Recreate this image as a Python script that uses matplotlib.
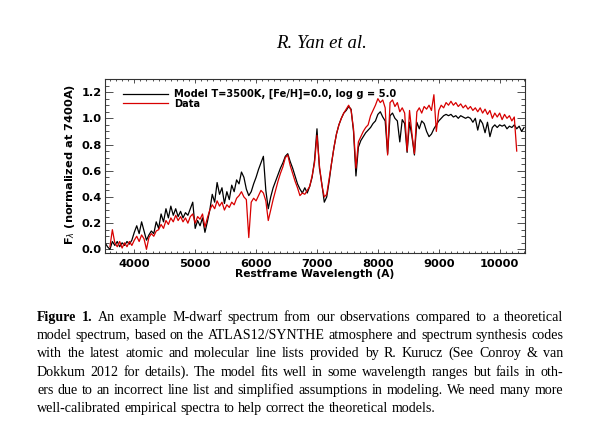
import numpy as np
import matplotlib
matplotlib.use("Agg")
import matplotlib.pyplot as plt
from matplotlib.ticker import MultipleLocator

# ---------------- data ----------------
model_wave = np.arange(3520, 10401, 40)
model_flux = [
    0.05, 0.02, 0.00, 0.06, 0.03, 0.06, 0.02, 0.05, 0.03, 0.06,   # 3520-3880
    0.04, 0.07, 0.13, 0.18, 0.12, 0.21, 0.14, 0.07, 0.11, 0.14,   # 3920-4280
    0.12, 0.21, 0.16, 0.27, 0.21, 0.31, 0.24, 0.33, 0.26, 0.31,   # 4320-4680
    0.25, 0.29, 0.24, 0.28, 0.26, 0.31, 0.36, 0.16, 0.22, 0.18,   # 4720-5080
    0.24, 0.13, 0.21, 0.30, 0.42, 0.36, 0.51, 0.42, 0.47, 0.35,   # 5120-5480
    0.44, 0.38, 0.49, 0.44, 0.53, 0.50, 0.59, 0.55, 0.46, 0.41,   # 5520-5880
    0.44, 0.50, 0.55, 0.61, 0.66, 0.71, 0.45, 0.31, 0.40, 0.47,   # 5920-6280
    0.52, 0.57, 0.62, 0.66, 0.71, 0.73, 0.67, 0.62, 0.56, 0.50,   # 6320-6680
    0.46, 0.43, 0.47, 0.43, 0.48, 0.55, 0.68, 0.92, 0.62, 0.50,   # 6720-7080
    0.36, 0.40, 0.52, 0.66, 0.78, 0.88, 0.95, 1.00, 1.04, 1.06,   # 7120-7480
    1.09, 1.07, 0.90, 0.56, 0.78, 0.83, 0.86, 0.89, 0.91, 0.93,   # 7520-7880
    0.96, 0.98, 1.03, 1.05, 1.01, 0.98, 0.73, 1.02, 1.04, 1.00,   # 7920-8280
    0.98, 0.82, 0.99, 0.96, 0.74, 0.97, 0.86, 0.72, 0.97, 0.92,   # 8320-8680
    0.98, 0.96, 0.90, 0.86, 0.88, 0.92, 0.95, 0.98, 1.00, 1.02,   # 8720-9080
    1.03, 1.02, 1.03, 1.01, 1.02, 1.00, 1.02, 1.01, 1.00, 1.01,   # 9120-9480
    1.00, 0.97, 1.00, 0.91, 0.99, 0.96, 0.89, 0.97, 0.86, 0.93,   # 9520-9880
    0.95, 0.93, 0.95, 0.94, 0.95, 0.92, 0.94, 0.93, 0.95, 0.92,   # 9920-10280
    0.94, 0.90, 0.93,                                             # 10320-10400
]

data_wave = np.arange(3600, 10281, 40)
data_flux = [
    0.02, 0.15, 0.05, 0.02, 0.06, 0.01, 0.05, 0.02, 0.06, 0.03,   # 3600-3960
    0.07, 0.10, 0.06, 0.11, 0.08, 0.00, 0.09, 0.12, 0.10, 0.14,   # 4000-4360
    0.15, 0.19, 0.16, 0.22, 0.19, 0.24, 0.21, 0.26, 0.22, 0.25,   # 4400-4760
    0.21, 0.24, 0.20, 0.25, 0.27, 0.20, 0.25, 0.23, 0.27, 0.17,   # 4800-5160
    0.24, 0.30, 0.34, 0.31, 0.37, 0.33, 0.36, 0.30, 0.34, 0.32,   # 5200-5560
    0.36, 0.34, 0.39, 0.41, 0.44, 0.40, 0.38, 0.09, 0.36, 0.39,   # 5600-5960
    0.37, 0.41, 0.45, 0.43, 0.37, 0.22, 0.30, 0.38, 0.45, 0.52,   # 6000-6360
    0.58, 0.63, 0.70, 0.72, 0.64, 0.58, 0.52, 0.47, 0.41, 0.43,   # 6400-6760
    0.42, 0.45, 0.48, 0.56, 0.66, 0.87, 0.64, 0.49, 0.40, 0.42,   # 6800-7160
    0.54, 0.66, 0.78, 0.88, 0.95, 1.00, 1.04, 1.07, 1.10, 1.06,   # 7200-7560
    0.92, 0.62, 0.82, 0.86, 0.90, 0.93, 0.95, 1.02, 1.06, 1.10,   # 7600-7960
    1.15, 1.12, 1.14, 1.08, 0.72, 1.12, 1.14, 1.09, 1.12, 1.05,   # 8000-8360
    1.08, 1.04, 0.75, 1.06, 0.88, 0.73, 1.05, 1.08, 1.04, 1.09,   # 8400-8760
    1.07, 1.10, 1.06, 1.18, 0.90, 1.06, 1.10, 1.08, 1.12, 1.10,   # 8800-9160
    1.13, 1.10, 1.12, 1.09, 1.11, 1.08, 1.10, 1.07, 1.09, 1.06,   # 9200-9560
    1.08, 1.05, 1.08, 1.04, 1.07, 1.03, 1.06, 1.00, 1.04, 1.01,   # 9600-9960
    1.04, 0.99, 1.03, 1.00, 1.02, 0.98, 1.01, 0.75,               # 10000-10280
]

x_ticks = [4000, 5000, 6000, 7000, 8000, 9000, 10000]
y_ticks = [0.0, 0.2, 0.4, 0.6, 0.8, 1.0, 1.2]
legend_labels = ["Model T=3500K, [Fe/H]=0.0, log g = 5.0", "Data"]
x_label = "Restframe Wavelength (A)"
y_label = r"F$_\lambda$ (normalized at 7400A)"
header = "R. Yan et al."
caption_lines = [
    "An example M-dwarf spectrum from our observations compared to a theoretical",
    "model spectrum, based on the ATLAS12/SYNTHE atmosphere and spectrum synthesis codes",
    "with the latest atomic and molecular line lists provided by R. Kurucz (See Conroy & van",
    "Dokkum 2012 for details).  The model fits well in some wavelength ranges but fails in oth-",
    "ers due to an incorrect line list and simplified assumptions in modeling.  We need many more",
    "well-calibrated empirical spectra to help correct the theoretical models.",
]

# ---------------- figure ----------------
W, H = 603, 446
fig = plt.figure(figsize=(W / 100, H / 100), dpi=100)
fig.patch.set_facecolor("white")
renderer = fig.canvas.get_renderer()


def fx(px):
    return px / W


def fy(py):
    return 1 - py / H


def fit_size(t, target, use_height=False):
    bb = t.get_window_extent(renderer)
    cur = bb.height if use_height else bb.width
    t.set_fontsize(t.get_fontsize() * target / cur)
    return t.get_fontsize()


L, R, T, B = 105, 525, 79, 252.5
ax = fig.add_axes([fx(L), fy(B), (R - L) / W, (B - T) / H])
l_model, = ax.plot(model_wave, model_flux, color="black", lw=0.9)
l_data, = ax.plot(data_wave, data_flux, color="#d80000", lw=0.9)
ax.set_xlim(3519, 10416)
ax.set_ylim(-0.024, 1.30)

axis_col = "#333333"
for s in ax.spines.values():
    s.set_color(axis_col)
    s.set_linewidth(0.8)

tick_fs = 8.2
ax.set_xticks(x_ticks)
ax.set_xticklabels([str(v) for v in x_ticks], fontsize=tick_fs, fontweight="bold")
ax.set_yticks(y_ticks)
ax.set_yticklabels(["%.1f" % v for v in y_ticks], fontsize=tick_fs, fontweight="bold")
ax.xaxis.set_minor_locator(MultipleLocator(100))
ax.yaxis.set_minor_locator(MultipleLocator(0.05))
ax.tick_params(which="both", direction="in", top=True, right=True, color=axis_col, width=0.6)
ax.tick_params(axis="x", which="major", length=3.0, pad=5)
ax.tick_params(axis="x", which="minor", length=1.5)
ax.tick_params(axis="y", which="major", length=6.0, pad=2.6)
ax.tick_params(axis="y", which="minor", length=3.0)

# axis labels
xl = fig.text(fx(315), fy(274), x_label, ha="center", va="center",
              fontweight="bold", fontsize=8)
fit_size(xl, 158)
yl = fig.text(fx(70), fy(164), y_label, ha="center", va="center", rotation=90,
              fontweight="bold", fontsize=8)
fit_size(yl, 162, use_height=True)

# legend (font size fitted to the reference text width)
tmp = fig.text(0, 0, legend_labels[0], fontweight="bold", fontsize=8)
leg_fs = fit_size(tmp, 221)
tmp.remove()
em = leg_fs * 100 / 72
spacing = 0.0
anchor = [fx(123), fy(88)]
leg = None
for _ in range(3):
    if leg is not None:
        leg.remove()
    leg = ax.legend([l_model, l_data], legend_labels, loc="upper left",
                    bbox_to_anchor=tuple(anchor), bbox_transform=fig.transFigure,
                    frameon=False, prop={"weight": "bold", "size": leg_fs},
                    handlelength=45 / em, handletextpad=6 / em,
                    labelspacing=spacing, borderpad=0, borderaxespad=0)
    fig.canvas.draw()
    t0 = leg.get_texts()[0].get_window_extent(renderer)
    t1 = leg.get_texts()[1].get_window_extent(renderer)
    c0 = (t0.y0 + t0.y1) / 2
    c1 = (t1.y0 + t1.y1) / 2
    dx = 174 - t0.x0
    dy = (H - 94.3) - c0
    anchor = [anchor[0] + dx / W, anchor[1] + dy / H]
    spacing += (9.4 - (c0 - c1)) / em

# header
hd = fig.text(fx(321.5), fy(43), header, ha="center", va="center",
              family="Liberation Serif", style="italic", fontsize=10)
fit_size(hd, 91)

# caption, justified between x=37 and x=563
cap_left, cap_right = 37, 563
probe = fig.text(0, 0, caption_lines[1], family="Liberation Serif", fontsize=10)
cap_fs = fit_size(probe, 521)
probe.remove()


def wpx(s, weight="normal"):
    t = fig.text(0, 0, s, family="Liberation Serif", fontsize=cap_fs, fontweight=weight)
    w = t.get_window_extent(renderer).width
    t.remove()
    return w


space_w = wpx("a a") - 2 * wpx("a")
baselines = [320.7, 339.0, 357.3, 375.6, 393.9, 412.2]
for i, line in enumerate(caption_lines):
    tokens = [(w, "normal") for w in line.split()]
    if i == 0:
        tokens = [("Figure", "bold"), ("1.", "bold")] + tokens
    widths = [wpx(w, wt) for w, wt in tokens]
    if i < len(caption_lines) - 1:
        gap = (cap_right - cap_left - sum(widths)) / (len(tokens) - 1)
    else:
        gap = space_w
    x = cap_left
    for (w, wt), ww in zip(tokens, widths):
        fig.text(fx(x), fy(baselines[i]), w, family="Liberation Serif",
                 fontsize=cap_fs, fontweight=wt, ha="left", va="baseline")
        x += ww + gap

fig.savefig("out.png", dpi=100, facecolor="white")
